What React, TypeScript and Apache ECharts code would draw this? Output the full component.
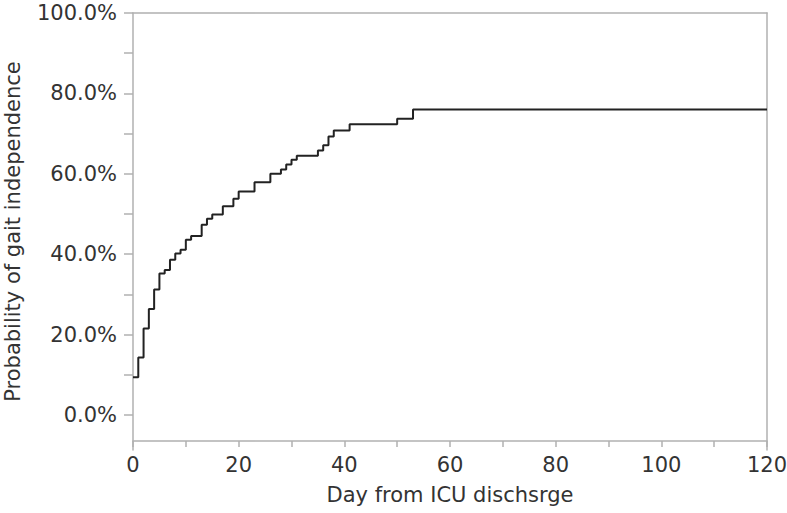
import React, { useEffect, useRef } from "react";
import * as echarts from "echarts";

// Kaplan-Meier style step curve (day from ICU discharge, % gait independence)
const days = [0, 1, 2, 3, 4, 5, 6, 7, 8, 9, 10, 11, 13, 14, 15, 17, 19, 20, 23, 26, 28, 29, 30, 31, 35, 36, 37, 38, 41, 50, 53, 120];
const probs = [9.4, 14.3, 21.5, 26.4, 31.2, 35.2, 36.1, 38.6, 40.2, 41.1, 43.6, 44.5, 47.3, 48.8, 49.9, 51.9, 53.8, 55.6, 57.9, 60.0, 61.1, 62.3, 63.5, 64.5, 65.8, 67.1, 69.3, 70.8, 72.3, 73.7, 76.0, 76.0];

const xTickValues = [0, 10, 20, 30, 40, 50, 60, 70, 80, 90, 100, 110, 120];
const xLabelValues = [0, 20, 40, 60, 80, 100, 120];
const yTickValues = [0, 10, 20, 30, 40, 50, 60, 70, 80, 90, 100];
const yLabelValues = [0, 20, 40, 60, 80, 100];

const xTitle = "Day from ICU dischsrge";
const yTitle = "Probability of gait independence";

export default function App() {
  const ref = useRef<HTMLDivElement>(null);
  useEffect(() => {
    if (!ref.current) return;
    const chart = echarts.init(ref.current, null, { renderer: "svg" });
    const axisColor = "#b0b0b0";
    const textColor = "#333333";
    const font = "DejaVu Sans";
    const fs = 21;
    const yMin = -8.7;
    chart.setOption({
      animation: false,
      backgroundColor: "#ffffff",
      grid: { left: 133, right: 20, top: 13, bottom: 63, containLabel: false, outerBoundsMode: "none" },
      xAxis: [
        {
          type: "value",
          min: 0,
          max: 120,
          offset: -9,
          position: "bottom",
          name: xTitle,
          nameLocation: "middle",
          nameGap: 43,
          nameTextStyle: { color: textColor, fontSize: fs, fontFamily: font },
          axisLine: { show: true, onZero: false, lineStyle: { color: axisColor, width: 1.5 } },
          axisTick: { show: true, length: 6, customValues: xTickValues, lineStyle: { color: axisColor, width: 1.5 } },
          axisLabel: { customValues: xLabelValues, color: textColor, fontSize: fs, fontFamily: font, margin: 13 },
          splitLine: { show: false },
        },
        {
          type: "value",
          min: 0,
          max: 120,
          position: "top",
          axisLine: { show: true, onZero: false, lineStyle: { color: axisColor, width: 1.5 } },
          axisTick: { show: false },
          axisLabel: { show: false },
          splitLine: { show: false },
        },
      ],
      yAxis: [
        {
          type: "value",
          min: yMin,
          max: 100,
          position: "left",
          name: yTitle,
          nameLocation: "middle",
          nameGap: 110,
          nameTextStyle: { color: textColor, fontSize: fs, fontFamily: font },
          axisLine: { show: true, onZero: false, lineStyle: { color: axisColor, width: 1.5 } },
          axisTick: { show: true, length: 9, customValues: yTickValues, lineStyle: { color: axisColor, width: 1.5 } },
          axisLabel: {
            customValues: yLabelValues,
            color: textColor,
            fontSize: fs,
            fontFamily: font,
            margin: 16,
            formatter: (v: number) => v.toFixed(1) + "%",
          },
          splitLine: { show: false },
        },
        {
          type: "value",
          min: yMin,
          max: 100,
          position: "right",
          axisLine: { show: true, onZero: false, lineStyle: { color: axisColor, width: 1.5 } },
          axisTick: { show: false },
          axisLabel: { show: false },
          splitLine: { show: false },
        },
      ],
      series: [
        {
          type: "line",
          step: "end",
          xAxisIndex: 0,
          yAxisIndex: 0,
          data: days.map((d, i) => [d, probs[i]]),
          showSymbol: false,
          symbol: "none",
          lineStyle: { color: "#222222", width: 2 },
          clip: false,
        },
      ],
    });
    return () => chart.dispose();
  }, []);
  return <div ref={ref} style={{ width: 787, height: 513, position: "absolute", left: 0, top: 0 }} />;
}
